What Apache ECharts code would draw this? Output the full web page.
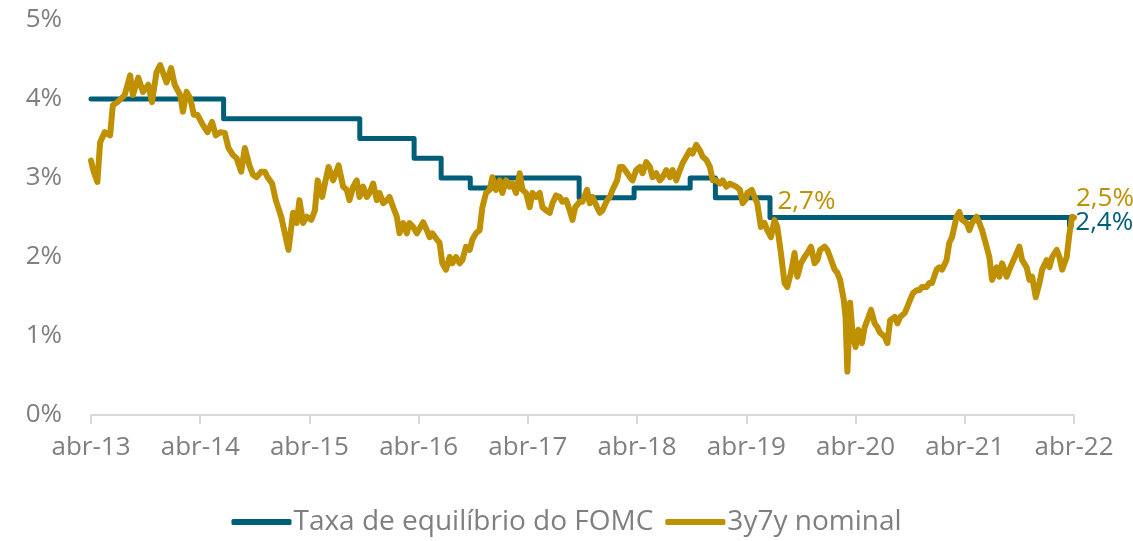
<!DOCTYPE html>
<html>
    <head>
        <meta charset="utf-8">
        <script src="https://cdn.jsdelivr.net/npm/echarts@6/dist/echarts.min.js"></script>
    </head>
    <body>
        <style>
            html, body, #main {
                width: 100%;
                height: 100%;
                margin: 0;
                background: #fff;
            }
        </style>
        <div id='main'></div>
        <script>
            // x = meses desde abr-13
            var xTickLabels = ['abr-13', 'abr-14', 'abr-15', 'abr-16', 'abr-17', 'abr-18', 'abr-19', 'abr-20', 'abr-21', 'abr-22'];

            // Taxa de equilibrio do FOMC (mediana longo prazo), mudancas por reuniao
            var fomcMonths = [0, 14.57, 29.53, 35.5, 38.47, 41.67, 44.43, 53.63, 59.67, 65.83, 68.6, 74.6, 107.5, 107.7];
            var fomcRates  = [4.0, 3.75, 3.5, 3.25, 3.0, 2.875, 3.0, 2.75, 2.875, 3.0, 2.75, 2.5, 2.4, 2.4];

            // 3y7y nominal: [mes, %]
            var nominal3y7y = [
                [0, 3.22], [0.3, 3.08], [0.7, 2.95], [1.0, 3.45], [1.5, 3.58], [2.1, 3.54], [2.4, 3.92], [2.9, 3.96],
                [3.7, 4.05], [4.3, 4.30], [4.6, 4.05], [5.2, 4.27], [5.7, 4.09], [6.3, 4.18], [6.7, 3.96], [7.2, 4.34],
                [7.6, 4.43], [8.3, 4.21], [8.8, 4.39], [9.2, 4.18], [9.8, 4.05], [10.1, 3.84], [10.5, 4.09], [10.9, 4.01],
                [11.3, 3.80], [11.7, 3.80], [12.3, 3.67], [12.8, 3.58], [13.3, 3.71], [13.7, 3.54], [14.2, 3.58], [14.7, 3.57],
                [15.1, 3.38], [15.6, 3.29], [16.0, 3.25], [16.5, 3.08], [16.9, 3.38], [17.4, 3.16], [17.8, 3.04],
                [18.2, 3.01], [18.7, 3.08], [19.1, 3.08], [19.4, 3.01], [19.9, 2.93], [20.3, 2.72], [20.9, 2.51], [21.3, 2.30],
                [21.7, 2.09], [22.2, 2.56], [22.6, 2.43], [22.9, 2.72], [23.3, 2.43], [23.7, 2.51], [24.2, 2.47], [24.6, 2.59],
                [24.9, 2.97], [25.4, 2.76], [25.7, 2.93], [26.1, 3.14], [26.6, 2.97], [26.9, 3.06], [27.2, 3.16], [27.7, 2.89],
                [28.1, 2.85], [28.4, 2.72], [28.8, 2.89], [29.2, 2.97], [29.5, 2.76], [29.9, 2.89], [30.3, 2.76], [30.6, 2.81],
                [31.0, 2.93], [31.4, 2.72], [31.7, 2.81], [32.1, 2.68], [32.5, 2.72], [32.8, 2.76], [33.2, 2.63], [33.6, 2.51],
                [33.9, 2.30], [34.3, 2.43], [34.7, 2.30], [35.0, 2.43], [35.4, 2.38], [35.8, 2.30],
                [36.0, 2.30], [36.5, 2.44], [36.9, 2.34], [37.2, 2.25], [37.5, 2.30], [38.0, 2.22], [38.3, 2.18], [38.6, 1.92],
                [39.0, 1.84], [39.4, 2.00], [39.7, 1.92], [40.1, 2.00], [40.5, 1.92], [40.8, 1.96], [41.2, 2.13], [41.6, 2.09],
                [41.9, 2.22], [42.3, 2.30], [42.7, 2.34], [43.0, 2.63], [43.4, 2.81], [43.8, 2.85], [44.1, 3.01], [44.5, 2.85],
                [44.9, 2.97], [45.2, 2.81], [45.6, 2.97], [46.0, 2.89], [46.3, 2.93], [46.7, 2.81], [47.1, 3.06], [47.4, 2.85],
                [47.8, 2.81], [48.2, 2.63], [48.5, 2.81], [48.9, 2.76], [49.3, 2.81], [49.6, 2.63], [50.0, 2.59], [50.4, 2.56],
                [50.7, 2.68], [51.1, 2.78], [51.5, 2.76], [51.8, 2.70], [52.2, 2.72], [52.6, 2.59], [52.9, 2.47], [53.2, 2.63],
                [53.7, 2.70], [54.0, 2.70], [54.5, 2.85], [54.8, 2.68], [55.1, 2.76], [55.6, 2.63], [55.9, 2.56], [56.2, 2.59],
                [56.7, 2.72], [57.0, 2.76], [57.3, 2.85], [57.8, 2.97], [58.1, 3.14], [58.4, 3.14], [58.8, 3.08], [59.2, 3.01],
                [59.5, 2.97], [59.9, 3.10], [60.3, 3.14], [60.6, 3.06], [61.0, 3.20], [61.4, 3.14], [61.7, 3.01], [62.1, 3.06],
                [62.5, 2.97], [62.8, 3.01], [63.2, 3.10], [63.6, 3.01], [63.9, 3.10], [64.3, 2.97], [64.7, 3.10], [65.0, 3.19],
                [65.4, 3.27], [65.8, 3.35], [66.1, 3.31], [66.5, 3.42], [66.9, 3.35], [67.2, 3.27], [67.6, 3.23], [68.0, 3.14],
                [68.3, 2.97], [68.7, 2.97], [69.1, 2.93], [69.4, 2.97], [69.8, 2.89], [70.2, 2.93], [70.5, 2.91], [70.9, 2.89],
                [71.3, 2.85], [71.6, 2.68], [72.0, 2.74], [72.1, 2.81], [72.6, 2.85], [72.9, 2.76], [73.2, 2.68], [73.6, 2.38],
                [74.0, 2.43], [74.3, 2.34], [74.7, 2.25], [75.1, 2.47], [75.4, 2.38], [75.8, 2.05], [76.2, 1.67], [76.5, 1.62],
                [76.9, 1.80], [77.3, 2.05], [77.6, 1.75], [78.0, 1.92], [78.4, 2.00], [78.7, 2.05], [79.1, 2.13], [79.5, 1.92],
                [79.8, 1.96], [80.1, 2.09], [80.6, 2.13], [80.9, 2.09], [81.2, 2.00], [81.7, 1.84], [82.0, 1.80], [82.3, 1.71],
                [82.7, 1.46], [82.9, 1.24], [83.1, 0.55], [83.4, 1.42], [83.7, 0.99], [84.0, 0.86], [84.3, 1.08], [84.7, 0.91],
                [85.0, 1.11], [85.3, 1.20], [85.7, 1.33], [86.1, 1.16], [86.4, 1.11], [86.7, 1.04], [87.2, 0.99], [87.5, 0.91],
                [87.8, 1.20], [88.3, 1.24], [88.6, 1.16], [88.9, 1.24], [89.4, 1.29], [89.7, 1.37],
                [90.0, 1.46], [90.3, 1.54], [90.7, 1.58], [91.0, 1.58], [91.3, 1.62], [91.8, 1.62], [92.1, 1.67], [92.4, 1.67],
                [92.9, 1.84], [93.2, 1.87], [93.5, 1.84], [94.0, 1.96], [94.3, 2.18], [94.6, 2.25], [95.1, 2.51], [95.4, 2.57],
                [95.7, 2.47], [96.2, 2.43], [96.5, 2.34], [96.8, 2.43], [97.3, 2.51], [97.6, 2.43], [97.9, 2.34], [98.4, 2.13],
                [98.7, 2.00], [99.0, 1.71], [99.5, 1.87], [99.8, 1.75], [100.1, 1.92], [100.6, 1.75], [100.9, 1.84], [101.2, 1.92],
                [101.7, 2.05], [102.0, 2.13], [102.3, 1.96], [102.8, 1.87], [103.1, 1.71], [103.4, 1.75], [103.8, 1.49], [104.2, 1.67],
                [104.5, 1.84], [105.0, 1.96], [105.3, 1.87], [105.6, 2.00], [106.1, 2.09], [106.4, 2.00], [106.7, 1.84], [107.2, 2.00],
                [107.5, 2.30], [107.8, 2.51], [108.0, 2.50]
            ];

            // rotulo avulso
            var note = { month: 78.6, value: 2.7, text: '2,7%' };

            var teal = '#005E78';
            var gold = '#BF9000';
            var grey = '#7F7F7F';
            var font = 'Open Sans';

            function pct(v) {
                return v.toFixed(1).replace('.', ',') + '%';
            }

            var chart = echarts.init(document.getElementById('main'));
            var option = {
                animation: false,
                textStyle: { fontFamily: font },
                grid: { left: 91, right: 59, top: 20, bottom: 126 },
                legend: {
                    bottom: 0,
                    left: 'center',
                    itemWidth: 60,
                    itemHeight: 6,
                    itemGap: 12,
                    icon: 'roundRect',
                    textStyle: { color: grey, fontSize: 28, fontFamily: font, padding: [0, 0, 0, -3] },
                    data: ['Taxa de equilíbrio do FOMC', '3y7y nominal']
                },
                xAxis: {
                    type: 'value',
                    min: 0,
                    max: 108,
                    interval: 12,
                    splitLine: { show: false },
                    axisLine: { show: true, lineStyle: { color: '#D9D9D9', width: 2 } },
                    axisTick: { show: true, length: 9, lineStyle: { color: '#D9D9D9', width: 2 } },
                    axisLabel: {
                        color: grey,
                        fontSize: 26,
                        margin: 20,
                        formatter: function (v) { return xTickLabels[Math.round(v / 12)]; }
                    }
                },
                yAxis: {
                    type: 'value',
                    min: 0,
                    max: 5,
                    interval: 1,
                    splitLine: { show: false },
                    axisLine: { show: false },
                    axisTick: { show: false },
                    axisLabel: {
                        color: grey,
                        fontSize: 26,
                        margin: 29,
                        formatter: '{value}%'
                    }
                },
                series: [
                    {
                        name: 'Taxa de equilíbrio do FOMC',
                        type: 'line',
                        step: 'end',
                        symbol: 'none',
                        color: teal,
                        lineStyle: { color: teal, width: 5, cap: 'round', join: 'round' },
                        data: fomcMonths.map(function (m, i) { return [m, fomcRates[i]]; }),
                        endLabel: {
                            show: true,
                            color: teal,
                            fontSize: 26,
                            distance: 4,
                            offset: [0, -3],
                            formatter: function () { return pct(fomcRates[fomcRates.length - 1]); }
                        }
                    },
                    {
                        name: '3y7y nominal',
                        type: 'line',
                        symbol: 'none',
                        color: gold,
                        lineStyle: { color: gold, width: 6, cap: 'round', join: 'round' },
                        data: nominal3y7y,
                        endLabel: {
                            show: true,
                            color: gold,
                            fontSize: 26,
                            distance: 2,
                            offset: [0, -19],
                            formatter: function () { return pct(nominal3y7y[nominal3y7y.length - 1][1]); }
                        },
                        markPoint: {
                            symbol: 'circle',
                            symbolSize: 1,
                            itemStyle: { color: 'rgba(0,0,0,0)' },
                            label: { show: true, position: 'inside', color: gold, fontSize: 26 },
                            data: [{ coord: [note.month, note.value], value: note.text }]
                        }
                    }
                ]
            };
            chart.setOption(option);
        </script>
    </body>
</html>
